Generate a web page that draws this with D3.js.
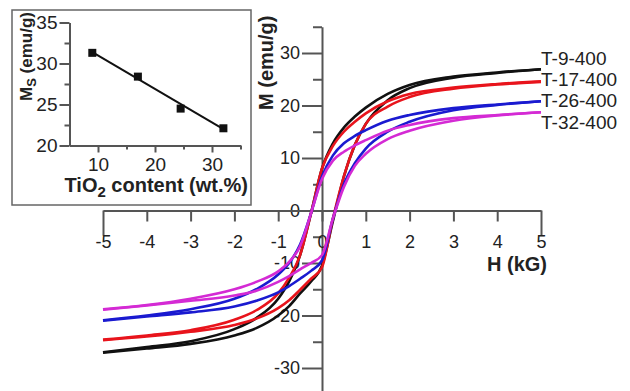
<!DOCTYPE html>
<html>
<head>
<meta charset="utf-8">
<script src="https://cdn.jsdelivr.net/npm/d3@7"></script>
<style>
  body { margin: 0; background: #fff; }
  text { font-family: "Liberation Sans", Arial, sans-serif; fill: #222; }
</style>
</head>
<body>
<div id="chart"></div>
<script>
// Field values shared by every branch (kG)
const fields = [-5, -4, -3, -2, -1.5, -1, -0.75, -0.5, -0.25, 0, 0.25, 0.5, 0.75, 1, 1.5, 2, 3, 4, 5];

const sampleNames = ['T-9-400', 'T-17-400', 'T-26-400', 'T-32-400'];
const sampleColors = ['#111111', '#e8141c', '#1a1ad0', '#d42ad4'];

// Descending branch (coming down from +5 kG), emu/g
const descT9 = [-27.0, -26.0, -24.9, -22.6, -20.5, -16.8, -13.5, -8.5, -0.5, 8.0, 12.8, 15.8, 17.9, 19.6, 22.2, 23.9, 25.5, 26.3, 26.9];
const descT17 = [-24.6, -23.8, -22.8, -20.8, -19.0, -15.8, -12.8, -8.5, -0.5, 8.0, 12.3, 15.0, 16.9, 18.5, 20.8, 22.2, 23.4, 24.1, 24.6];
const descT26 = [-20.9, -20.0, -18.8, -16.8, -15.0, -12.2, -10.0, -6.5, -0.5, 6.5, 10.5, 12.8, 14.2, 15.3, 17.1, 18.2, 19.5, 20.2, 20.8];
const descT32 = [-18.8, -18.0, -16.8, -15.0, -13.6, -11.6, -9.8, -6.8, -0.5, 6.0, 9.5, 11.2, 12.4, 13.4, 15.2, 16.3, 17.6, 18.2, 18.7];

// Ascending branch (coming up from -5 kG), emu/g
const ascT9 = [-27.1, -26.3, -25.4, -23.8, -22.4, -20.0, -18.2, -15.8, -13.5, -10.5, -2.0, 6.5, 12.5, 16.5, 21.0, 23.3, 25.3, 26.2, 26.9];
const ascT17 = [-24.7, -24.0, -23.1, -21.8, -20.6, -18.6, -17.1, -15.1, -13.0, -10.8, -1.5, 6.5, 12.5, 16.5, 19.8, 21.6, 23.2, 24.0, 24.5];
const ascT26 = [-21.0, -20.2, -19.4, -18.3, -17.2, -15.6, -14.4, -13.0, -11.5, -9.5, -1.5, 5.0, 9.0, 11.8, 15.0, 16.9, 19.1, 20.1, 20.8];
const ascT32 = [-18.9, -18.1, -17.2, -16.2, -15.3, -13.6, -12.5, -11.2, -10.0, -8.5, -1.5, 4.5, 8.5, 10.8, 13.6, 15.2, 17.1, 18.1, 18.7];

const hTicks = [-5, -4, -3, -2, -1, 0, 1, 2, 3, 4, 5];
const mTicks = [-30, -20, -10, 0, 10, 20, 30];
const mMinorTicks = [-35, -25, -15, -5, 5, 15, 25, 35];

// Inset: saturation magnetisation vs TiO2 content
const tioContent = [9, 17, 24.5, 32];
const msValues = [31.3, 28.4, 24.5, 22.1];
const fitContent = [9, 32];
const fitMs = [31.4, 22.0];
const insetXTicks = [10, 20, 30];
const insetXMinor = [15, 25, 35];
const insetYTicks = [20, 25, 30, 35];
const insetYMinor = [22.5, 27.5, 32.5];

const desc = [descT9, descT17, descT26, descT32];
const asc = [ascT9, ascT17, ascT26, ascT32];

const svg = d3.select('#chart')
  .append('svg')
  .attr('width', 630)
  .attr('height', 391);

svg.append('rect').attr('width', 630).attr('height', 391).attr('fill', '#fff');

// Main scales
const x = d3.scaleLinear().domain([-5, 5]).range([103, 541]);
const y = d3.scaleLinear().domain([-30, 30]).range([368, 53]);
const yFull = y.copy().domain([-35, 35]).range([y(-35), y(35)]);

const axisColor = '#555';
const plain = (d) => String(d);

// Y axis (through H = 0)
const yAxisG = svg.append('g')
  .attr('transform', `translate(${x(0)}, 0)`)
  .call(d3.axisLeft(yFull).tickValues(mTicks).tickSize(20).tickPadding(2).tickSizeOuter(0)
    .tickFormat(plain));
svg.append('g')
  .attr('transform', `translate(${x(0)}, 0)`)
  .call(d3.axisLeft(yFull).tickValues(mMinorTicks).tickSize(9).tickFormat('').tickSizeOuter(0))
  .select('.domain').remove();

// X axis (through M = 0)
const xAxisG = svg.append('g')
  .attr('transform', `translate(0, ${y(0)})`)
  .call(d3.axisBottom(x).tickValues(hTicks).tickSize(11).tickPadding(14).tickSizeOuter(0)
    .tickFormat(plain));
xAxisG.selectAll('.tick line').filter((d) => Math.abs(d) === 5).attr('y2', 25);

[yAxisG, xAxisG].forEach((g) => {
  g.selectAll('path, line').attr('stroke', axisColor).attr('stroke-width', 2);
  g.selectAll('text').attr('font-size', 18).attr('fill', '#222')
    .style('font-family', '"Liberation Sans", Arial, sans-serif');
});
svg.selectAll('g line').attr('stroke', axisColor).attr('stroke-width', 2);

// Axis titles
svg.append('text')
  .attr('x', 547)
  .attr('y', 271)
  .attr('text-anchor', 'end')
  .attr('font-size', 20)
  .attr('font-weight', 'bold')
  .text('H (kG)');

svg.append('text')
  .attr('transform', 'translate(273, 110) rotate(-90)')
  .attr('font-size', 20)
  .attr('font-weight', 'bold')
  .text('M (emu/g)');

// Hysteresis loops: both branches of every sample
const line = d3.line()
  .x((d) => x(d[0]))
  .y((d) => y(d[1]))
  .curve(d3.curveMonotoneX);

sampleNames.forEach((name, i) => {
  [desc[i], asc[i]].forEach((branch) => {
    svg.append('path')
      .datum(fields.map((h, j) => [h, branch[j]]))
      .attr('fill', 'none')
      .attr('stroke', sampleColors[i])
      .attr('stroke-width', 2.6)
      .attr('stroke-linejoin', 'round')
      .attr('d', line);
  });
});

// Sample labels at the right end
svg.selectAll('.sample-label')
  .data(sampleNames).enter()
  .append('text')
  .attr('class', 'sample-label')
  .attr('x', 541)
  .attr('y', (d, i) => 58 + i * 21.3)
  .attr('dy', '0.35em')
  .attr('font-size', 19)
  .text((d) => d);

// Inset panel
svg.append('rect')
  .attr('x', 12)
  .attr('y', 10)
  .attr('width', 239)
  .attr('height', 195)
  .attr('fill', '#fff')
  .attr('stroke', '#666')
  .attr('stroke-width', 1.5);

const xi = d3.scaleLinear().domain([5, 35]).range([69.5, 240.5]);
const yi = d3.scaleLinear().domain([20, 35]).range([145.5, 22.5]);

const inYAxis = svg.append('g')
  .attr('transform', `translate(${xi(5)}, 0)`)
  .call(d3.axisLeft(yi).tickValues(insetYTicks).tickSize(10).tickPadding(2).tickSizeOuter(0));
const inYMinor = svg.append('g')
  .attr('transform', `translate(${xi(5)}, 0)`)
  .call(d3.axisLeft(yi).tickValues(insetYMinor).tickSize(5).tickFormat('').tickSizeOuter(0));
inYMinor.select('.domain').remove();

const inXAxis = svg.append('g')
  .attr('transform', `translate(0, ${yi(20)})`)
  .call(d3.axisBottom(xi).tickValues(insetXTicks).tickSize(7).tickPadding(5).tickSizeOuter(0));
const inXMinor = svg.append('g')
  .attr('transform', `translate(0, ${yi(20)})`)
  .call(d3.axisBottom(xi).tickValues(insetXMinor).tickSize(4).tickFormat('').tickSizeOuter(0));
inXMinor.select('.domain').remove();

[inYAxis, inYMinor, inXAxis, inXMinor].forEach((g) => {
  g.selectAll('path, line').attr('stroke', axisColor).attr('stroke-width', 2);
  g.selectAll('text').attr('font-size', 19).attr('fill', '#222')
    .style('font-family', '"Liberation Sans", Arial, sans-serif');
});

// Linear fit and data points
svg.append('path')
  .datum(fitContent.map((c, i) => [c, fitMs[i]]))
  .attr('fill', 'none')
  .attr('stroke', '#111')
  .attr('stroke-width', 2)
  .attr('d', d3.line().x((d) => xi(d[0])).y((d) => yi(d[1])));

svg.selectAll('.ms-point')
  .data(tioContent.map((c, i) => [c, msValues[i]])).enter()
  .append('rect')
  .attr('class', 'ms-point')
  .attr('x', (d) => xi(d[0]) - 4)
  .attr('y', (d) => yi(d[1]) - 4)
  .attr('width', 8)
  .attr('height', 8)
  .attr('fill', '#111');

// Inset titles
const inXTitle = svg.append('text')
  .attr('x', 248)
  .attr('y', 192)
  .attr('text-anchor', 'end')
  .attr('font-size', 20)
  .attr('font-weight', 'bold');
inXTitle.append('tspan').text('TiO');
inXTitle.append('tspan').attr('dy', 5).attr('font-size', 15).text('2');
inXTitle.append('tspan').attr('dy', -5).text(' content (wt.%)');

const inYTitle = svg.append('text')
  .attr('transform', 'translate(32, 101) rotate(-90)')
  .attr('font-size', 17)
  .attr('font-weight', 'bold');
inYTitle.append('tspan').text('M');
inYTitle.append('tspan').attr('dy', 4).attr('font-size', 13).text('S');
inYTitle.append('tspan').attr('dy', -4).text(' (emu/g)');
</script>
</body>
</html>
